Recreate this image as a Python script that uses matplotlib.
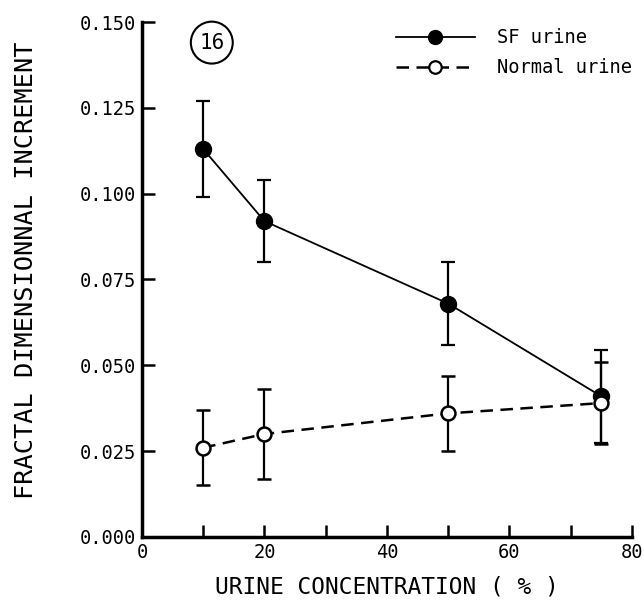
import numpy as np
import matplotlib.pyplot as plt
from matplotlib.lines import Line2D

# datos
conc = [10, 20, 50, 75]
sf_mean = [0.113, 0.092, 0.068, 0.041]
sf_err = [0.014, 0.012, 0.012, 0.0135]
normal_mean = [0.026, 0.030, 0.036, 0.039]
normal_err = [0.011, 0.013, 0.011, 0.012]

mono = 'DejaVu Sans Mono'
dash = (0, (5, 3))

fig = plt.figure(figsize=(6.44, 6.03), dpi=100)
ax = fig.add_axes([0.2205, 0.1095, 0.7605, 0.854])

ax.errorbar(conc, sf_mean, yerr=sf_err, color='black', lw=1.3, marker='o',
            ms=11.5, mfc='black', mec='black', capsize=4.7, elinewidth=1.6,
            capthick=1.6)
ax.errorbar(conc, normal_mean, yerr=normal_err, color='black', lw=1.8,
            ls=dash, marker='o', ms=10, mfc='white', mec='black',
            mew=1.8, capsize=4.7, elinewidth=1.6, capthick=1.6)

ax.set_xlim(0, 80)
ax.set_ylim(0, 0.150)
ax.set_xticks(np.arange(0, 81, 10))
ax.set_xticklabels(['0', '', '20', '', '40', '', '60', '', '80'])
ax.set_yticks(np.arange(0, 0.1501, 0.025))
ax.set_yticklabels(['0.000', '0.025', '0.050', '0.075', '0.100', '0.125', '0.150'])

for s in ['top', 'right']:
    ax.spines[s].set_visible(False)
for s in ['left', 'bottom']:
    ax.spines[s].set_linewidth(2.5)

ax.tick_params(axis='both', direction='in', length=9, width=1.8,
               labelsize=13.5, pad=4)
for lab in ax.get_xticklabels() + ax.get_yticklabels():
    lab.set_family(mono)

ax.set_xlabel('URINE CONCENTRATION ( % )', family=mono, fontsize=16.5, labelpad=10)
ax.set_ylabel('FRACTAL DIMENSIONNAL INCREMENT', family=mono, fontsize=18.2)
ax.yaxis.set_label_coords(-0.213, 0.518)

ax.text(11.4, 0.144, '16', family=mono, fontsize=15, ha='center', va='center',
        bbox=dict(boxstyle='circle,pad=0.4', fc='white', ec='black', lw=1.5))

handles = [
    Line2D([], [], color='black', lw=1.3, marker='o', ms=10, mfc='black'),
    Line2D([], [], color='black', lw=1.8, ls=dash, marker='o', ms=9,
           mfc='white', mew=1.6),
]
ax.legend(handles, ['SF urine', 'Normal urine'], loc='upper right',
          bbox_to_anchor=(1.035, 1.021), frameon=False,
          handlelength=4.2, handletextpad=1.2, labelspacing=0.6,
          prop={'family': mono, 'size': 13.5})

fig.savefig('out.png', dpi=100)
